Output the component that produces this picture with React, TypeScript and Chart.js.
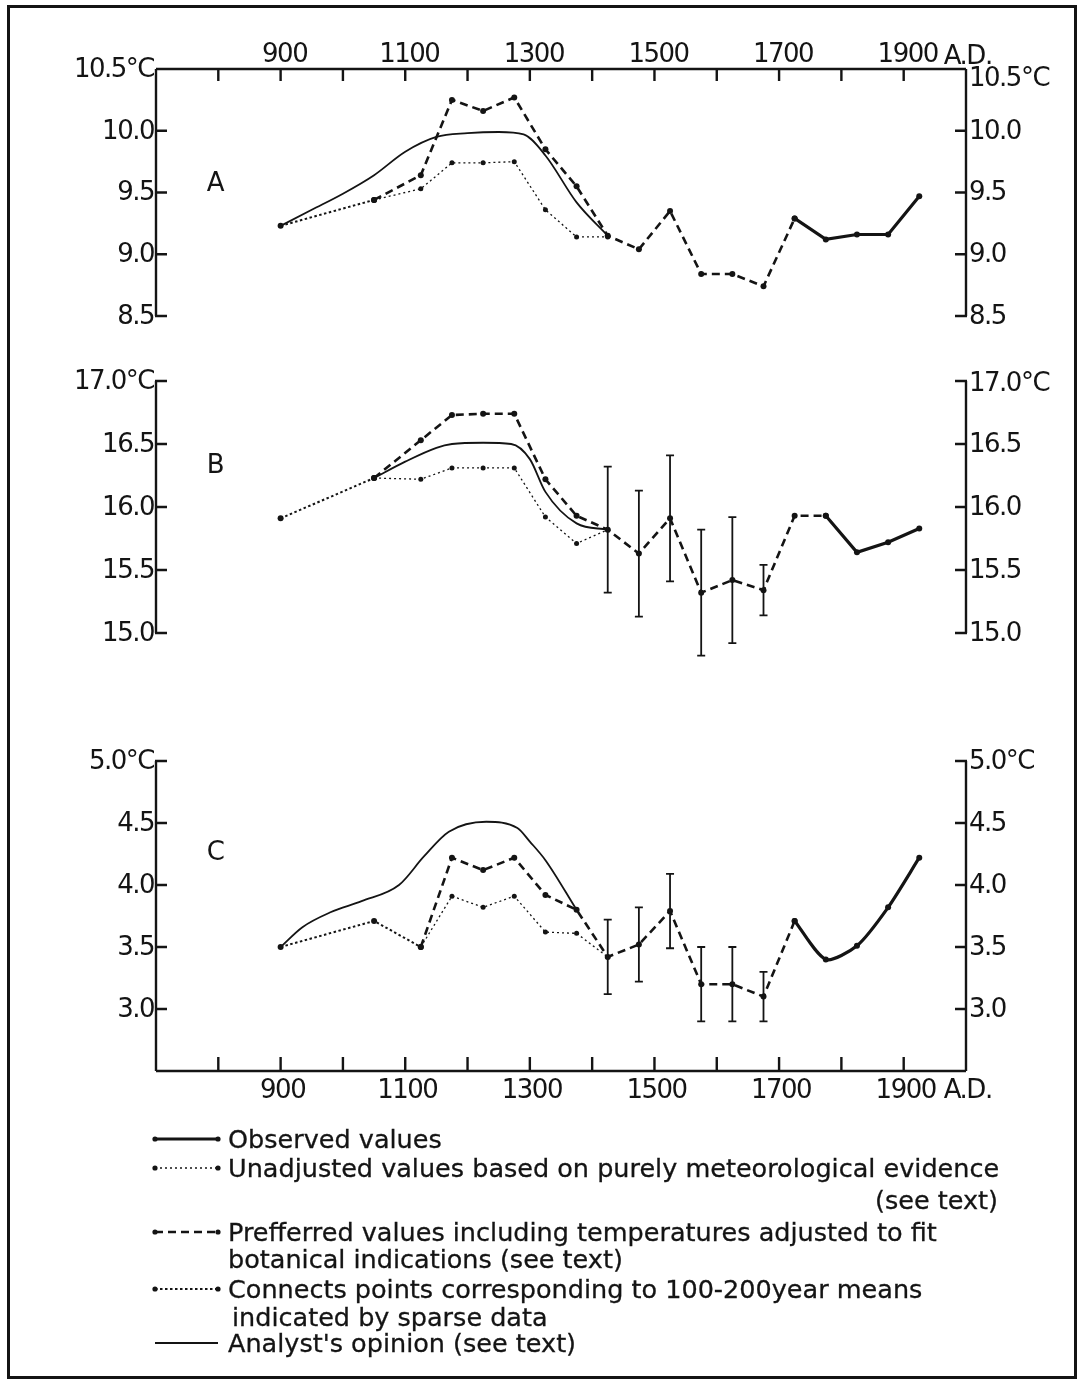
import React, { useEffect, useRef } from 'react';
import { Chart, registerables } from 'chart.js';

Chart.register(...registerables);

// ---------------- data ----------------
const xTickYears = [800, 900, 1000, 1100, 1200, 1300, 1400, 1500, 1600, 1700, 1800, 1900];
const xLabelYears = [900, 1100, 1300, 1500, 1700, 1900];
const xUnitLabel = 'A.D.';

const aTickValues = [10.5, 10.0, 9.5, 9.0, 8.5];
const aTickLabels = ['10.5°C', '10.0', '9.5', '9.0', '8.5'];
const bTickValues = [17.0, 16.5, 16.0, 15.5, 15.0];
const bTickLabels = ['17.0°C', '16.5', '16.0', '15.5', '15.0'];
const cTickValues = [5.0, 4.5, 4.0, 3.5, 3.0];
const cTickLabels = ['5.0°C', '4.5', '4.0', '3.5', '3.0'];

// Panel A
const aSparseYears = [900, 1050];
const aSparseVals = [9.23, 9.44];
const aUnadjYears = [1050, 1125, 1175, 1225, 1275, 1325, 1375, 1425];
const aUnadjVals = [9.44, 9.53, 9.74, 9.74, 9.75, 9.36, 9.14, 9.14];
const aPrefYears = [1050, 1125, 1175, 1225, 1275, 1325, 1375, 1425, 1475, 1525, 1575, 1625, 1675, 1725];
const aPrefVals = [9.44, 9.64, 10.25, 10.16, 10.27, 9.85, 9.55, 9.15, 9.04, 9.35, 8.84, 8.84, 8.74, 9.29];
const aObsYears = [1725, 1775, 1825, 1875, 1925];
const aObsVals = [9.29, 9.12, 9.16, 9.16, 9.47];
const aAnalystYears = [900, 950, 1000, 1050, 1100, 1150, 1200, 1250, 1290, 1325, 1375, 1425];
const aAnalystVals = [9.23, 9.36, 9.49, 9.64, 9.83, 9.95, 9.98, 9.99, 9.97, 9.8, 9.42, 9.15];

// Panel B
const bSparseYears = [900, 1050];
const bSparseVals = [15.91, 16.23];
const bUnadjYears = [1050, 1125, 1175, 1225, 1275, 1325, 1375, 1425];
const bUnadjVals = [16.23, 16.22, 16.31, 16.31, 16.31, 15.92, 15.71, 15.82];
const bPrefYears = [1050, 1125, 1175, 1225, 1275, 1325, 1375, 1425, 1475, 1525, 1575, 1625, 1675, 1725, 1775];
const bPrefVals = [16.23, 16.53, 16.73, 16.74, 16.74, 16.22, 15.93, 15.82, 15.63, 15.91, 15.32, 15.42, 15.34, 15.93, 15.93];
const bObsYears = [1775, 1825, 1875, 1925];
const bObsVals = [15.93, 15.64, 15.72, 15.83];
const bAnalystYears = [1050, 1100, 1150, 1175, 1225, 1270, 1300, 1325, 1375, 1425];
const bAnalystVals = [16.23, 16.36, 16.47, 16.5, 16.51, 16.5, 16.38, 16.12, 15.87, 15.82];
const bErrYears = [1425, 1475, 1525, 1575, 1625, 1675];
const bErrHalf = [0.5, 0.5, 0.5, 0.5, 0.5, 0.2];

// Panel C
const cSparseYears = [900, 1050, 1125];
const cSparseVals = [3.5, 3.71, 3.5];
const cUnadjYears = [1125, 1175, 1225, 1275, 1325, 1375, 1425];
const cUnadjVals = [3.5, 3.91, 3.82, 3.91, 3.62, 3.61, 3.42];
const cPrefYears = [1125, 1175, 1225, 1275, 1325, 1375, 1425, 1475, 1525, 1575, 1625, 1675, 1725];
const cPrefVals = [3.5, 4.22, 4.12, 4.22, 3.92, 3.8, 3.42, 3.52, 3.79, 3.2, 3.2, 3.1, 3.71];
const cObsYears = [1725, 1775, 1825, 1875, 1925];
const cObsVals = [3.71, 3.4, 3.51, 3.82, 4.22];
const cAnalystYears = [900, 935, 980, 1030, 1090, 1130, 1170, 1230, 1280, 1300, 1325, 1375];
const cAnalystVals = [3.5, 3.66, 3.78, 3.87, 4.0, 4.23, 4.43, 4.51, 4.46, 4.35, 4.2, 3.8];
const cErrYears = [1425, 1475, 1525, 1575, 1625, 1675];
const cErrHalf = [0.3, 0.3, 0.3, 0.3, 0.3, 0.2];

const legendLabels = [
  'Observed values',
  'Unadjusted values based on purely meteorological evidence',
  'Prefferred values including temperatures adjusted to fit',
  'Connects points corresponding to 100-200year means',
  "Analyst's opinion (see text)",
];
const legendContinuations = ['(see text)', 'botanical indications (see text)', 'indicated by sparse data'];

// ---------------- layout / style ----------------
const W = 1080;
const H = 1382;
const LEFT = 156;
const RIGHT = 966;
const TOP = 69;
const BOTTOM = 1071;
const INK = '#141414';
const FONT = '"DejaVu Sans", sans-serif';

type Panel = {
  id: string; hi: number; lo: number; yHi: number; yLo: number;
  ticks: number[]; labels: string[]; letter: string; letterX: number; letterY: number;
  rightTopOffset: number;
};

const panels: Panel[] = [
  { id: 'yA', hi: 10.5, lo: 8.5, yHi: 69, yLo: 316, ticks: aTickValues, labels: aTickLabels, letter: 'A', letterX: 215, letterY: 184, rightTopOffset: 9 },
  { id: 'yB', hi: 17.0, lo: 15.0, yHi: 381, yLo: 633, ticks: bTickValues, labels: bTickLabels, letter: 'B', letterX: 215, letterY: 466, rightTopOffset: 2 },
  { id: 'yC', hi: 5.0, lo: 2.5, yHi: 761, yLo: 1071, ticks: cTickValues, labels: cTickLabels, letter: 'C', letterX: 215, letterY: 853, rightTopOffset: 0 },
];

function rangeFor(p: Panel) {
  const k = (p.yLo - p.yHi) / (p.hi - p.lo);
  return { min: p.lo - (BOTTOM - p.yLo) / k, max: p.hi + (p.yHi - TOP) / k };
}

const styles: Record<string, any> = {
  obs: { borderWidth: 3.2, borderDash: [], pointRadius: 3 },
  pref: { borderWidth: 2.6, borderDash: [8, 5], pointRadius: 3 },
  unadj: { borderWidth: 1.3, borderDash: [2, 3], pointRadius: 2.5 },
  sparse: { borderWidth: 2.0, borderDash: [2.5, 2.5], pointRadius: 3 },
  analyst: { borderWidth: 1.8, borderDash: [], pointRadius: 0, cubicInterpolationMode: 'monotone' },
};

function series(label: string, years: number[], vals: number[], axis: string, kind: string, extra: any = {}) {
  return {
    label,
    data: years.map((x, i) => ({ x, y: vals[i] })),
    yAxisID: axis,
    xAxisID: 'x',
    borderColor: INK,
    backgroundColor: INK,
    pointBackgroundColor: INK,
    pointBorderWidth: 0,
    fill: false,
    tension: 0,
    clip: false,
    ...styles[kind],
    ...extra,
  };
}

const errorSets = [
  { axis: 'yB', years: bErrYears, half: bErrHalf, refYears: bPrefYears, refVals: bPrefVals },
  { axis: 'yC', years: cErrYears, half: cErrHalf, refYears: cPrefYears, refVals: cPrefVals },
];

const errorBarPlugin = {
  id: 'errorBars',
  afterDatasetsDraw(chart: any) {
    const ctx = chart.ctx;
    const xs = chart.scales.x;
    ctx.save();
    ctx.strokeStyle = INK;
    ctx.lineWidth = 1.8;
    ctx.setLineDash([]);
    for (const es of errorSets) {
      const ys = chart.scales[es.axis];
      es.years.forEach((yr, i) => {
        const v = es.refVals[es.refYears.indexOf(yr)];
        const px = xs.getPixelForValue(yr);
        const t = ys.getPixelForValue(v + es.half[i]);
        const b = ys.getPixelForValue(v - es.half[i]);
        ctx.beginPath();
        ctx.moveTo(px, t); ctx.lineTo(px, b);
        ctx.moveTo(px - 4, t); ctx.lineTo(px + 4, t);
        ctx.moveTo(px - 4, b); ctx.lineTo(px + 4, b);
        ctx.stroke();
      });
    }
    ctx.restore();
  },
};

const legendRowsY = [1139, 1168, 1232, 1289, 1343];
const legendKinds = ['obs', 'unadj', 'pref', 'sparse', 'analyst'];

const axesPlugin = {
  id: 'panelAxes',
  afterDraw(chart: any) {
    const ctx = chart.ctx;
    const xs = chart.scales.x;
    const L = chart.chartArea.left;
    const R = chart.chartArea.right;
    const T = chart.chartArea.top;
    const B = chart.chartArea.bottom;
    const labelFont = `26px ${FONT}`;
    ctx.save();
    ctx.strokeStyle = INK;
    ctx.fillStyle = INK;
    ctx.lineWidth = 2.4;
    ctx.setLineDash([]);
    ctx.lineCap = 'butt';
    ctx.font = labelFont;
    (ctx as any).letterSpacing = '-1.5px';

    // top and bottom x axes
    ctx.beginPath();
    ctx.moveTo(L, T); ctx.lineTo(R, T);
    ctx.moveTo(L, B); ctx.lineTo(R, B);
    for (const yr of xTickYears) {
      const px = xs.getPixelForValue(yr);
      ctx.moveTo(px, T); ctx.lineTo(px, T + 12);
      ctx.moveTo(px, B); ctx.lineTo(px, B - 14);
    }
    ctx.stroke();
    ctx.textAlign = 'center';
    ctx.textBaseline = 'alphabetic';
    for (const yr of xLabelYears) {
      const px = xs.getPixelForValue(yr);
      ctx.fillText(String(yr), px + 4, T - 7);
      ctx.fillText(String(yr), px + 2, B + 27);
    }
    const lastYear = xLabelYears[xLabelYears.length - 1];
    const lastPx = xs.getPixelForValue(lastYear);
    const lastW = ctx.measureText(String(lastYear)).width;
    ctx.textAlign = 'left';
    ctx.fillText(xUnitLabel, lastPx + 4 + lastW / 2 + 6, T - 5);
    ctx.fillText(xUnitLabel, lastPx + 2 + lastW / 2 + 8, B + 27);

    // y axes of each panel
    for (const p of panels) {
      const ys = chart.scales[p.id];
      const yTop = ys.getPixelForValue(p.hi);
      const yBot = ys.getPixelForValue(p.lo);
      ctx.beginPath();
      ctx.moveTo(L, yTop); ctx.lineTo(L, yBot);
      ctx.moveTo(R, yTop); ctx.lineTo(R, yBot);
      p.ticks.forEach((v) => {
        const py = ys.getPixelForValue(v);
        if (py <= T + 1) return;
        ctx.moveTo(L - 1, py); ctx.lineTo(L + 11, py);
        ctx.moveTo(R + 1, py); ctx.lineTo(R - 11, py);
      });
      ctx.stroke();
      ctx.textBaseline = 'middle';
      p.ticks.forEach((v, i) => {
        const py = ys.getPixelForValue(v);
        ctx.textAlign = 'right';
        ctx.fillText(p.labels[i], L - 2, py + 1);
        ctx.textAlign = 'left';
        ctx.fillText(p.labels[i], R + 3, py + 1 + (i === 0 ? p.rightTopOffset : 0));
      });
      ctx.textAlign = 'center';
      ctx.fillText(p.letter, p.letterX, p.letterY);
    }

    // legend samples
    legendRowsY.forEach((y, i) => {
      const st = styles[legendKinds[i]];
      const x0 = 155;
      const x1 = 218;
      ctx.beginPath();
      ctx.lineWidth = st.borderWidth;
      ctx.setLineDash(st.borderDash || []);
      ctx.moveTo(x0, y); ctx.lineTo(x1, y);
      ctx.stroke();
      ctx.setLineDash([]);
      if (st.pointRadius > 0) {
        ctx.beginPath();
        ctx.arc(x0, y, 2.6, 0, Math.PI * 2);
        ctx.arc(x1, y, 2.6, 0, Math.PI * 2);
        ctx.fill();
      }
    });
    ctx.restore();
  },
};

export default function App() {
  const ref = useRef<HTMLCanvasElement>(null);

  useEffect(() => {
    const canvas = ref.current;
    if (!canvas) return;
    const datasets: any[] = [
      series('A sparse', aSparseYears, aSparseVals, 'yA', 'sparse'),
      series('A unadjusted', aUnadjYears, aUnadjVals, 'yA', 'unadj'),
      series('A preferred', aPrefYears, aPrefVals, 'yA', 'pref'),
      series('A observed', aObsYears, aObsVals, 'yA', 'obs'),
      series('A analyst', aAnalystYears, aAnalystVals, 'yA', 'analyst'),
      series('B sparse', bSparseYears, bSparseVals, 'yB', 'sparse'),
      series('B unadjusted', bUnadjYears, bUnadjVals, 'yB', 'unadj'),
      series('B preferred', bPrefYears, bPrefVals, 'yB', 'pref'),
      series('B observed', bObsYears, bObsVals, 'yB', 'obs'),
      series('B analyst', bAnalystYears, bAnalystVals, 'yB', 'analyst'),
      series('C sparse', cSparseYears, cSparseVals, 'yC', 'sparse'),
      series('C unadjusted', cUnadjYears, cUnadjVals, 'yC', 'unadj'),
      series('C preferred', cPrefYears, cPrefVals, 'yC', 'pref'),
      series('C observed', cObsYears, cObsVals, 'yC', 'obs', { tension: 0.25 }),
      series('C analyst', cAnalystYears, cAnalystVals, 'yC', 'analyst'),
    ];
    const scales: any = {
      x: { type: 'linear', min: 700, max: 2000, display: false },
    };
    for (const p of panels) {
      const r = rangeFor(p);
      scales[p.id] = { type: 'linear', min: r.min, max: r.max, display: false };
    }
    const chart = new Chart(canvas, {
      type: 'line',
      data: { datasets },
      options: {
        responsive: false,
        maintainAspectRatio: false,
        animation: false,
        devicePixelRatio: 1,
        layout: { padding: { left: LEFT, right: W - RIGHT, top: TOP, bottom: H - BOTTOM } },
        plugins: { legend: { display: false }, tooltip: { enabled: false } },
        events: [],
        scales,
      },
      plugins: [errorBarPlugin, axesPlugin],
    });
    return () => chart.destroy();
  }, []);

  const textStyle: React.CSSProperties = {
    position: 'absolute',
    fontFamily: FONT,
    fontSize: 25.5,
    lineHeight: '30px',
    color: INK,
    whiteSpace: 'nowrap',
    letterSpacing: '0px',
    WebkitTextStroke: '0.3px #141414',
  };
  const legendTops = [1124, 1153, 1217, 1274, 1328];
  const contTops = [1185, 1244, 1302];
  const contLefts = [null, 228, 232];

  return (
    <div style={{ position: 'absolute', left: 0, top: 0, width: W, height: H, background: '#fff', overflow: 'hidden' }}>
      <canvas ref={ref} width={W} height={H} style={{ position: 'absolute', left: 0, top: 0, width: W, height: H }} />
      <div style={{ position: 'absolute', left: 7, top: 5, width: 1070, height: 1374, border: '3px solid #141414', boxSizing: 'border-box' }} />
      {legendLabels.map((t, i) => (
        <div key={t} style={{ ...textStyle, left: 228, top: legendTops[i] }}>{t}</div>
      ))}
      {legendContinuations.map((t, i) => (
        <div key={t} style={i === 0 ? { ...textStyle, right: 1080 - 998, top: contTops[i] } : { ...textStyle, left: contLefts[i] as number, top: contTops[i] }}>{t}</div>
      ))}
    </div>
  );
}
